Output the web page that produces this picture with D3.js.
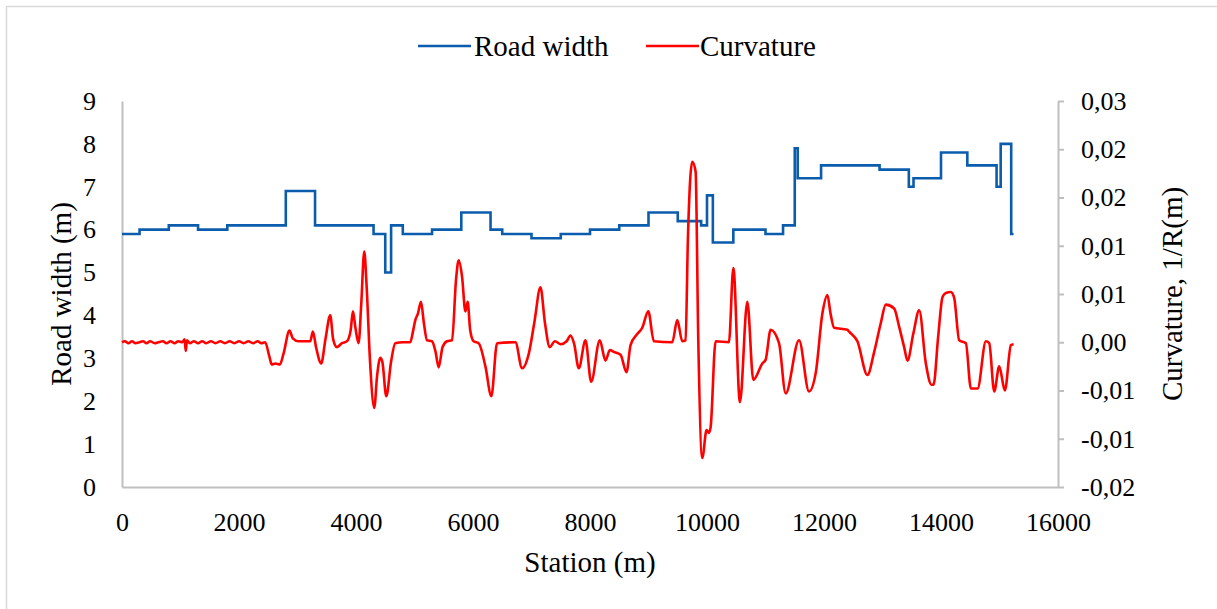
<!DOCTYPE html>
<html><head><meta charset="utf-8">
<script src="https://cdn.jsdelivr.net/npm/d3@7"></script>
<style>
html,body{margin:0;padding:0;background:#fff;}
svg{display:block;font-family:"Liberation Serif","Times New Roman",serif;}
</style></head>
<body>
<svg id="chart" width="1217" height="609"></svg>
<script>
// ---- data ----
const widthStations = [0, 300, 800, 1300, 1800, 2800, 3300, 4300, 4500, 4600, 4800, 5300, 5800, 6300, 6500, 7000, 7500, 8000, 8500, 9000, 9500, 9900, 10000, 10100, 10450, 11000, 11300, 11500, 11550, 11950, 12950, 13450, 13530, 14000, 14450, 14950, 15020, 15200, 15240];
const widthValues   = [5.9, 6.0, 6.1, 6.0, 6.1, 6.9, 6.1, 5.9, 5.0, 6.1, 5.9, 6.0, 6.4, 6.0, 5.9, 5.8, 5.9, 6.0, 6.1, 6.4, 6.2, 6.1, 6.8, 5.7, 6.0, 5.9, 6.1, 7.9, 7.2, 7.5, 7.4, 7.0, 7.2, 7.8, 7.5, 7.0, 8.0, 5.9, 5.9];

const curvStations = [0, 50, 110, 170, 230, 300, 360, 420, 480, 560, 620, 700, 760, 830, 900, 960, 1030, 1070, 1090, 1110, 1160, 1230, 1300, 1370, 1440, 1520, 1600, 1680, 1760, 1840, 1920, 2000, 2080, 2160, 2240, 2320, 2380, 2447,
  2520, 2560, 2620, 2700, 2760, 2863, 2920, 3017, 3217, 3263, 3320, 3405, 3480, 3559, 3610, 3674, 3760, 3845, 3910, 3948, 3990, 4044, 4090, 4141, 4180, 4240, 4312, 4360, 4415, 4450, 4518, 4600, 4671, 4800, 4928, 4970,
  5014, 5060, 5111, 5160, 5214, 5299, 5360, 5413, 5480, 5556, 5642, 5710, 5755, 5813, 5870, 5909, 5951, 6011, 6097, 6212, 6314, 6411, 6725, 6839, 6953, 7050, 7153, 7230, 7312, 7400, 7500, 7600, 7666, 7730, 7808, 7923,
  8020, 8167, 8265, 8340, 8407, 8522, 8624, 8693, 8800, 8893, 8996, 9092, 9406, 9492, 9577, 9634, 9673, 9748, 9805, 9851, 9919, 9993, 10032, 10062, 10147, 10375, 10450, 10563, 10689, 10792, 10946, 11003, 11088, 11231,
  11345, 11573, 11744, 11858, 11973, 12058, 12111, 12172, 12400, 12429, 12571, 12742, 12858, 12971, 13056, 13199, 13285, 13370, 13427, 13527, 13627, 13741, 13838, 13872, 13952, 14026, 14083, 14168, 14225, 14311, 14425,
  14511, 14625, 14767, 14824, 14910, 14995, 15092, 15195, 15241];
const curvValues = [0.0000, 0.0001, -0.0001, 0.0001, -0.0001, 0.0000, 0.0001, -0.0001, 0.0001, -0.0001, 0.0000, 0.0001, -0.0001, 0.0001, -0.0001, 0.0001, 0.0000, 0.0003, -0.0009, 0.0002, -0.0001, 0.0001, -0.0001, 0.0001, -0.0001, 0.0001, -0.0001, 0.0001, -0.0001, 0.0001, -0.0001, 0.0001, -0.0001, 0.0001, -0.0001, 0.0001, -0.0001, 0.0000,
  -0.0015, -0.0023, -0.0022, -0.0023, -0.0012, 0.0012, 0.0004, 0.0001, 0.0001, 0.0011, -0.0006, -0.0022, 0.0004, 0.0028, 0.0003, -0.0005, -0.0001, 0.0001, 0.0013, 0.0032, 0.0015, -0.0001, 0.0040, 0.0094, 0.0060, -0.0020, -0.0068, -0.0035, -0.0016, -0.0020, -0.0056, -0.0020, -0.0001, 0.0000, 0.0000, 0.0010,
  0.0023, 0.0030, 0.0042, 0.0020, 0.0002, 0.0001, -0.0010, -0.0026, -0.0005, 0.0001, 0.0002, 0.0065, 0.0085, 0.0068, 0.0032, 0.0042, 0.0013, 0.0001, -0.0001, -0.0025, -0.0056, -0.0001, 0.0000, -0.0027, -0.0012, 0.0021, 0.0057, 0.0020, -0.0005, 0.0001, -0.0002, 0.0001, 0.0007, -0.0002, -0.0027, 0.0002,
  -0.0041, 0.0002, -0.0019, -0.0008, -0.0010, -0.0013, -0.0031, -0.0003, 0.0008, 0.0015, 0.0032, 0.0001, 0.0000, 0.0023, 0.0001, 0.0002, 0.0106, 0.0187, 0.0177, 0.0002, -0.0120, -0.0091, -0.0094, -0.0088, 0.0001, 0.0000, 0.0077, -0.0062, 0.0042, -0.0039, -0.0022, -0.0018, 0.0013, -0.0001,
  -0.0053, 0.0002, -0.0051, -0.0032, 0.0030, 0.0049, 0.0030, 0.0015, 0.0013, 0.0011, 0.0001, -0.0034, -0.0010, 0.0020, 0.0039, 0.0035, 0.0016, -0.0005, -0.0019, 0.0009, 0.0033, -0.0022, -0.0044, -0.0044, 0.0006, 0.0047, 0.0051, 0.0052, 0.0046, 0.0002, -0.0001,
  -0.0048, -0.0048, 0.0001, -0.0001, -0.0051, -0.0025, -0.0050, -0.0003, -0.0002];

const xTicks = [0, 2000, 4000, 6000, 8000, 10000, 12000, 14000, 16000];
const leftTicks = [0, 1, 2, 3, 4, 5, 6, 7, 8, 9];
const rightTicks = [-0.015, -0.01, -0.005, 0, 0.005, 0.01, 0.015, 0.02, 0.025];
const rightTickLabels = ["-0,02", "-0,01", "-0,01", "0,00", "0,01", "0,01", "0,02", "0,02", "0,03"];
const seriesNames = ["Road width", "Curvature"];
const seriesColors = ["#0b5cad", "#ff0000"];

// ---- layout ----
const svg = d3.select("#chart");
const L = 122, R = 1058, T = 101, B = 487;
const x = d3.scaleLinear().domain([0, 16000]).range([L, R]);
const yL = d3.scaleLinear().domain([0, 9]).range([B, T]);
const yR = d3.scaleLinear().domain([-0.015, 0.025]).range([B, T]);
const axisColor = "#bfbfbf";
const serif = '"Liberation Serif","Times New Roman",serif';

svg.append("rect").attr("x", 6.5).attr("y", 6.5).attr("width", 1300).attr("height", 700)
  .attr("fill", "none").attr("stroke", "#d9d9d9").attr("stroke-width", 1.5);

// left axis
const gL = svg.append("g").attr("transform", `translate(${L},0)`)
  .call(d3.axisLeft(yL).tickValues(leftTicks).tickSize(0).tickPadding(26).tickFormat(d3.format("d")));
// bottom axis
const gB = svg.append("g").attr("transform", `translate(0,${B})`)
  .call(d3.axisBottom(x).tickValues(xTicks).tickSize(0).tickPadding(26).tickFormat(d3.format("d")));
// right axis
const gR = svg.append("g").attr("transform", `translate(${R},0)`)
  .call(d3.axisRight(yR).tickValues(rightTicks).tickSizeInner(6).tickSizeOuter(0).tickPadding(17)
    .tickFormat((d, i) => rightTickLabels[i]));

[gL, gB, gR].forEach(g => {
  g.attr("font-family", serif);
  g.select(".domain").attr("stroke", axisColor).attr("stroke-width", 2);
  g.selectAll(".tick line").attr("stroke", axisColor).attr("stroke-width", 2);
  g.selectAll(".tick text").attr("fill", "#000").style("font-size", "26px").style("font-family", serif);
});

// lines
const widthData = widthStations.map((s, i) => [s, widthValues[i]]);
const curvData = curvStations.map((s, i) => [s, curvValues[i]]);

svg.append("path").datum(widthData)
  .attr("fill", "none").attr("stroke", seriesColors[0]).attr("stroke-width", 2.6)
  .attr("stroke-linejoin", "miter")
  .attr("d", d3.line().x(d => x(d[0])).y(d => yL(d[1])).curve(d3.curveStepAfter));

svg.append("path").datum(curvData)
  .attr("fill", "none").attr("stroke", seriesColors[1]).attr("stroke-width", 2.6)
  .attr("stroke-linejoin", "round")
  .attr("d", d3.line().x(d => x(d[0])).y(d => yR(d[1])).curve(d3.curveMonotoneX));

// axis titles
svg.append("text").attr("transform", `translate(61,${(T + B) / 2}) rotate(-90)`)
  .attr("text-anchor", "middle").attr("dominant-baseline", "central")
  .style("font-size", "29px").text("Road width (m)");
svg.append("text").attr("transform", `translate(1172,${(T + B) / 2}) rotate(-90)`)
  .attr("text-anchor", "middle").attr("dominant-baseline", "central")
  .style("font-size", "29px").text("Curvature, 1/R(m)");
svg.append("text").attr("x", (L + R) / 2).attr("y", 572)
  .attr("text-anchor", "middle").style("font-size", "29px").text("Station (m)");

// legend
const legendItems = [{lx: 418, tx: 474}, {lx: 646, tx: 700}];
legendItems.forEach((it, i) => {
  svg.append("line").attr("x1", it.lx).attr("x2", it.lx + 53).attr("y1", 46).attr("y2", 46)
    .attr("stroke", seriesColors[i]).attr("stroke-width", 2.6);
  svg.append("text").attr("x", it.tx).attr("y", 46).attr("dominant-baseline", "central")
    .style("font-size", "29px").text(seriesNames[i]);
});
</script>
</body></html>
